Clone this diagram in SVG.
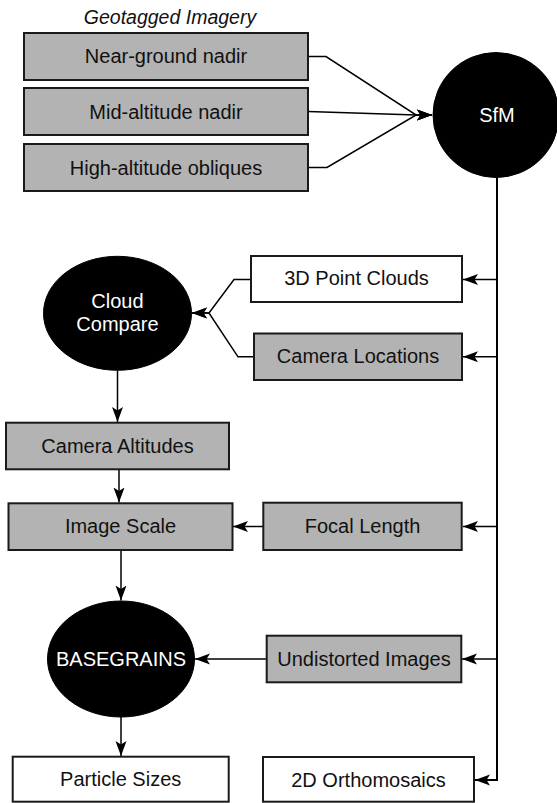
<svg xmlns="http://www.w3.org/2000/svg" width="557" height="803" viewBox="0 0 557 803">
<defs>
<style>
.box{stroke:#1a1a1a;stroke-width:2}
.gray{fill:#b3b3b3}
.white{fill:#ffffff}
.blk{fill:#000000;stroke:#000000;stroke-width:1}
.t{font-family:"Liberation Sans",Arial,sans-serif;font-size:20px;fill:#111111;text-anchor:middle}
.tw{font-family:"Liberation Sans",Arial,sans-serif;font-size:20px;fill:#ffffff;text-anchor:middle}
.title{font-family:"Liberation Sans",Arial,sans-serif;font-size:19.5px;font-style:italic;fill:#111111;text-anchor:middle}
.c{fill:none;stroke:#000000;stroke-width:1.5}
.v{fill:none;stroke:#000000;stroke-width:2}
</style>
<marker id="arr" markerUnits="userSpaceOnUse" markerWidth="16" markerHeight="12" viewBox="0 0 16 12" refX="15" refY="6" orient="auto">
<path d="M0,0.5 L15,6 L0,11.5 L3.5,6 Z" fill="#000000"/>
</marker>
</defs>
<rect width="557" height="803" fill="#ffffff"/>
<text class="title" x="170" y="24">Geotagged Imagery</text>
<g id="connectors">
<path class="c" d="M308,56.5 H326 L416,115 H432" marker-end="url(#arr)"/>
<path class="c" d="M308,111.5 L416,115 H432" marker-end="url(#arr)"/>
<path class="c" d="M308,167.5 H327 L416,115 H432" marker-end="url(#arr)"/>
<path class="v" d="M497,178 V780 H475" marker-end="url(#arr)"/>
<path class="c" d="M497,279.5 H463" marker-end="url(#arr)"/>
<path class="c" d="M497,356.8 H463" marker-end="url(#arr)"/>
<path class="c" d="M497,526.5 H463" marker-end="url(#arr)"/>
<path class="c" d="M497,659 H462" marker-end="url(#arr)"/>
<path class="c" d="M251,279.5 H234 L209,313 H192" marker-end="url(#arr)"/>
<path class="c" d="M254,356.8 H238 L209,313 H192" marker-end="url(#arr)"/>
<path class="c" d="M117.5,370.5 V422" marker-end="url(#arr)"/>
<path class="c" d="M119,469.5 V502.5" marker-end="url(#arr)"/>
<path class="c" d="M263,526.5 H233" marker-end="url(#arr)"/>
<path class="c" d="M121,550 V600.5" marker-end="url(#arr)"/>
<path class="c" d="M267,659 H195" marker-end="url(#arr)"/>
<path class="c" d="M121,717 V756" marker-end="url(#arr)"/>
</g>
<g id="near-ground">
<rect class="box gray" x="24" y="33" width="284" height="47"/>
<text class="t" x="166" y="63">Near-ground nadir</text>
</g>
<g id="mid-altitude">
<rect class="box gray" x="24" y="88" width="284" height="47"/>
<text class="t" x="166" y="118.5">Mid-altitude nadir</text>
</g>
<g id="high-altitude">
<rect class="box gray" x="24" y="144" width="284" height="47"/>
<text class="t" x="166" y="174.5">High-altitude obliques</text>
</g>
<g id="sfm">
<ellipse class="blk" cx="496" cy="115" rx="63" ry="62.5"/>
<text class="tw" x="497" y="121.7">SfM</text>
</g>
<g id="point-clouds">
<rect class="box white" x="251" y="256" width="211" height="46"/>
<text class="t" x="356.5" y="285">3D Point Clouds</text>
</g>
<g id="camera-locations">
<rect class="box gray" x="254" y="333.5" width="208" height="46.5"/>
<text class="t" x="358" y="363.3">Camera Locations</text>
</g>
<g id="cloud-compare">
<ellipse class="blk" cx="117.5" cy="313.3" rx="74" ry="57"/>
<text class="tw" x="117.5" y="308.3">Cloud</text>
<text class="tw" x="117.5" y="330.7">Compare</text>
</g>
<g id="camera-altitudes">
<rect class="box gray" x="6" y="422.7" width="223" height="46.6"/>
<text class="t" x="117.5" y="452.7">Camera Altitudes</text>
</g>
<g id="image-scale">
<rect class="box gray" x="8.5" y="503.3" width="224" height="46.7"/>
<text class="t" x="120.5" y="533">Image Scale</text>
</g>
<g id="focal-length">
<rect class="box gray" x="263.3" y="502.7" width="198.4" height="47.3"/>
<text class="t" x="362.5" y="532.7">Focal Length</text>
</g>
<g id="basegrains">
<ellipse class="blk" cx="121" cy="659" rx="73.5" ry="58"/>
<text class="tw" x="121" y="666">BASEGRAINS</text>
</g>
<g id="undistorted">
<rect class="box gray" x="266.7" y="635.7" width="194.6" height="46.6"/>
<text class="t" x="364" y="665.7">Undistorted Images</text>
</g>
<g id="particle-sizes">
<rect class="box white" x="12.7" y="756.7" width="216" height="45"/>
<text class="t" x="120.7" y="785.7">Particle Sizes</text>
</g>
<g id="orthomosaics">
<rect class="box white" x="263" y="757" width="211" height="44.7"/>
<text class="t" x="368.5" y="786.7">2D Orthomosaics</text>
</g>
</svg>
